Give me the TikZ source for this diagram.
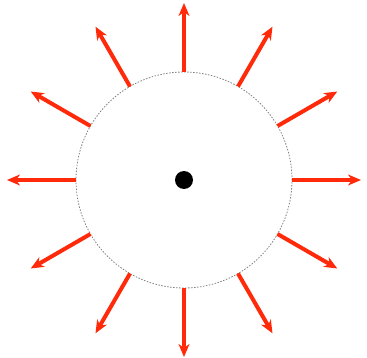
\documentclass[tikz,border=0pt]{standalone}
\usetikzlibrary{arrows.meta,calc}
\definecolor{arrowred}{HTML}{FF2A0A}
\tikzset{
  ray/.style={draw=arrowred, line width=4pt, -{Stealth[length=13pt,width=11pt,inset=4pt]}},
  rim/.style={draw=gray, line width=0.8pt, dash pattern=on 1.5pt off 1.5pt}
}
\begin{document}
\begin{tikzpicture}[x=1pt,y=1pt]
\useasboundingbox (0,0) rectangle (367,357);
\coordinate (c) at (184,177);
\node[circle, minimum size=216pt, inner sep=0pt, rim] (rimc) at (c) {};
\node[circle, fill=black, minimum size=18pt, inner sep=0pt] (dot) at (c) {};
\foreach \a in {0,30,...,330} {
  \coordinate (s\a) at ($(c)+(\a:108)$);
  \coordinate (e\a) at ($(c)+(\a:177)$);
  \draw[ray] (s\a) -- (e\a);
}
\end{tikzpicture}
\end{document}
